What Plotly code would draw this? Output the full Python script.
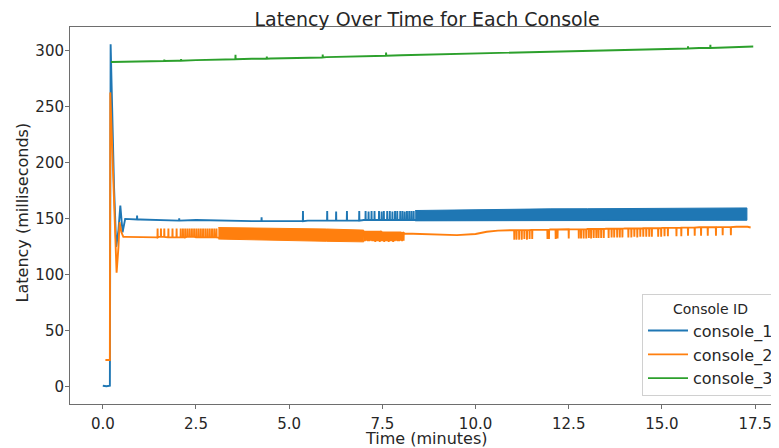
import plotly.graph_objects as go

# ---------------- data ----------------
# console_1 : start-up transient, slow baseline, isolated spikes, dense spike band
c1_start_t = [0.0, 0.1, 0.19, 0.21, 0.25, 0.3, 0.36, 0.42, 0.47, 0.53]
c1_start_v = [1, 0.5, 1, 306, 250, 180, 125, 140, 162, 138]
c1_base_t = [0.6, 0.75, 1.0, 1.5, 2.0, 2.5, 3.0, 3.5, 4.0, 4.5, 5.0, 5.5, 6.0, 6.5,
             7.0, 7.5, 8.0, 8.5, 9.0, 9.5, 10.0, 10.5, 11.0, 11.5, 12.0, 12.5, 13.0,
             13.5, 14.0, 14.5, 15.0, 15.5, 16.0, 16.5, 17.0, 17.28]
c1_base_v = [150, 149.5, 149.5, 149, 148.5, 149, 148.5, 148.5, 148, 148, 148, 148.5,
             148.5, 148.5, 149, 149, 149, 149, 149, 149.5, 149.5, 149.5, 149.5, 149.5,
             150, 150, 150, 150, 150, 150, 150.5, 150.5, 150.5, 150.5, 150.5, 150.5]
c1_spike_t = [0.92, 2.05, 4.26, 5.37, 6.02, 6.26, 6.55, 6.88, 7.05, 7.13, 7.21, 7.29,
              7.41, 7.48, 7.54, 7.63, 7.70, 7.77, 7.84, 7.90, 7.98, 8.04, 8.10, 8.16,
              8.22, 8.28, 8.34]
c1_spike_v = [153, 150.5, 151.5, 157, 157, 156.5, 157, 157, 157, 156.5, 157, 157,
              157, 156.5, 157, 157, 157, 156.5, 157, 157, 157, 157, 156.5, 157,
              157, 157, 157]
c1_band_t = [8.38, 9.0, 9.45, 10.0, 11.0, 12.0, 13.0, 14.0, 15.0, 16.0, 17.0, 17.28]
c1_band_hi = [157.5, 157.8, 158.3, 158.6, 158.8, 159.0, 159.1, 159.3, 159.5, 159.6, 159.8, 159.8]
c1_band_lo = [148.3, 148.3, 148.4, 148.4, 148.5, 148.5, 148.6, 148.6, 148.7, 148.7, 148.8, 148.8]

# console_2
c2_start_t = [0.07, 0.19, 0.2, 0.27, 0.33, 0.37, 0.42, 0.45, 0.5, 0.55]
c2_start_v = [24, 24, 263, 200, 130, 102, 125, 147, 138, 134]
c2_base_t = [0.6, 0.75, 1.0, 1.25, 1.5, 1.75, 2.0, 2.25, 2.5, 2.75, 3.0, 3.25, 3.5,
             4.0, 4.5, 5.0, 5.5, 6.0, 6.5, 6.95, 7.0, 7.5, 8.0, 8.1, 8.5, 9.0, 9.5,
             10.0, 10.3, 10.6, 11.0, 11.5, 12.0, 12.5, 13.0, 13.5, 14.0, 14.5, 15.0,
             15.5, 16.0, 16.5, 17.0, 17.3, 17.38]
c2_base_v = [134, 134, 134, 133.5, 134, 133.5, 133.5, 134, 133.5, 133.5, 133.5, 133,
             133, 133, 132.5, 132, 132, 131.5, 131.5, 131, 138.5, 138, 137.5, 137,
             136.5, 136, 135.5, 136.5, 138.5, 139.5, 140, 140.2, 140.5, 140.7, 141,
             141.2, 141.5, 141.7, 142, 142.2, 142.5, 142.7, 143, 143, 142.3]
c2_spike_t = [1.47, 1.56, 1.65, 1.76, 1.87, 1.98, 2.09, 2.15, 2.21, 2.27, 2.33, 2.39,
              2.45, 2.51, 2.57, 2.63, 2.69, 2.75, 2.81, 2.87, 2.93, 2.99, 3.05,
              7.03, 7.07, 7.11, 7.15, 7.19, 7.23, 7.27, 7.31, 7.35, 7.39, 7.43, 7.47,
              7.51, 7.55, 7.59, 7.63, 7.67, 7.71, 7.75, 7.79, 7.83, 7.87, 7.91, 7.95,
              7.99, 8.03, 8.07,
              11.04, 11.10, 11.17, 11.24, 11.31, 11.38, 11.45, 11.52, 11.93, 11.97,
              12.15, 12.20, 12.50, 12.77, 12.83, 12.90, 12.97, 13.04, 13.10, 13.17,
              13.24, 13.30, 13.37, 13.44, 13.57, 13.65, 13.72, 13.80, 13.87, 13.94,
              14.10, 14.18, 14.26, 14.34, 14.42, 14.50, 14.58, 14.66, 14.73, 14.90,
              14.98, 15.07, 15.16, 15.39, 15.52, 15.70, 15.88, 16.05, 16.23, 16.45,
              16.63, 16.85]
c2_spike_v = [141.5, 141.5, 141.5, 141.5, 141.5, 141.5, 141.5, 141.5, 141.5, 141.5,
              141.5, 141.5, 141.5, 141.5, 141.5, 141.5, 141.5, 141.5, 141.5, 141.5,
              141.5, 141.5, 141.5,
              130, 130.5, 130, 130, 130.5, 130, 130, 129.5, 130, 130, 129.5, 130,
              130, 129.5, 130, 130, 129.5, 130, 130, 129.5, 130, 130.5, 130, 130,
              130.5, 130, 130.5,
              131.5, 131.5, 131.5, 131.5, 132, 131.5, 132, 132, 132, 132,
              132, 132.5, 132.5, 132.5, 132.5, 132.5, 132.5, 133, 132.5, 133,
              133, 133, 133, 133, 133, 133.5, 133.5, 133.5, 133.5, 133.5,
              133.5, 133.5, 134, 133.5, 134, 134, 134, 134, 134, 134,
              134, 134.5, 134.5, 134.5, 134.5, 135, 135, 135, 135, 135,
              135.5, 135.5]
c2_band_t = [3.1, 4.0, 5.0, 6.0, 7.0]
c2_band_hi = [142.3, 142.0, 141.5, 141.0, 140.0]
c2_band_lo = [132.0, 131.3, 130.5, 130.0, 129.5]

# console_3
c3_base_t = [0.22, 0.5, 1.0, 1.5, 2.0, 2.5, 3.0, 3.5, 4.0, 4.5, 5.0, 5.5, 6.0, 6.5,
             7.0, 7.5, 8.0, 8.5, 9.0, 9.5, 10.0, 10.5, 11.0, 11.5, 12.0, 12.5, 13.0,
             13.5, 14.0, 14.5, 15.0, 15.5, 16.0, 16.5, 17.0, 17.45]
c3_base_v = [290.2, 290.3, 290.7, 291.0, 291.3, 291.8, 292.1, 292.6, 293.0, 293.3,
             293.8, 294.2, 294.5, 295.0, 295.4, 295.7, 296.2, 296.6, 296.9, 297.4,
             297.8, 298.1, 298.6, 299.0, 299.3, 299.8, 300.2, 300.5, 301.0, 301.4,
             301.7, 302.2, 302.6, 302.9, 303.4, 304.0]
c3_spike_t = [1.65, 2.10, 3.56, 4.40, 5.90, 7.60, 15.70, 16.30]
c3_spike_v = [292.3, 292.8, 296.5, 295.0, 296.8, 298.5, 304.2, 305.5]

series_names = ["console_1", "console_2", "console_3"]
series_colors = ["#1f77b4", "#ff7f0e", "#2ca02c"]

x_ticks = [0, 2.5, 5, 7.5, 10, 12.5, 15, 17.5]
x_tick_labels = ["0.0", "2.5", "5.0", "7.5", "10.0", "12.5", "15.0", "17.5"]
y_ticks = [0, 50, 100, 150, 200, 250, 300]
y_tick_labels = ["0", "50", "100", "150", "200", "250", "300"]


def merge_series(start_t, start_v, base_t, base_v, spike_t, spike_v, half=0.004):
    """Samples in time order; each spike rises from the last baseline sample before it."""
    pts = list(zip(start_t, start_v)) + list(zip(base_t, base_v))
    for st, sv in zip(spike_t, spike_v):
        b = [v for t, v in zip(base_t, base_v) if t <= st][-1]
        pts += [(st - half, b), (st, sv), (st + half, b)]
    pts.sort(key=lambda p: p[0])
    return [p[0] for p in pts], [p[1] for p in pts]


FONT = "DejaVu Sans"
TXT = "#262626"
AX = "#6e6e6e"

lines = [
    merge_series(c1_start_t, c1_start_v, c1_base_t, c1_base_v, c1_spike_t, c1_spike_v),
    merge_series(c2_start_t, c2_start_v, c2_base_t, c2_base_v, c2_spike_t, c2_spike_v),
    merge_series([], [], c3_base_t, c3_base_v, c3_spike_t, c3_spike_v),
]
bands = [(c1_band_t, c1_band_hi, c1_band_lo), (c2_band_t, c2_band_hi, c2_band_lo), None]

fig = go.Figure()
for name, color, (x, y), band in zip(series_names, series_colors, lines, bands):
    fig.add_trace(go.Scatter(x=x, y=y, mode="lines", name=name,
                             line=dict(color=color, width=1.9)))
    if band is not None:
        bt, bhi, blo = band
        fig.add_trace(go.Scatter(x=list(bt) + list(bt)[::-1], y=list(bhi) + list(blo)[::-1],
                                 mode="lines", fill="toself", fillcolor=color,
                                 line=dict(color=color, width=1),
                                 showlegend=False, hoverinfo="skip"))

# the browser page adds an 8 px body margin, so the figure is 8 px smaller
fig.update_layout(
    width=771, height=440,
    margin=dict(l=62, r=0, t=19, b=44),
    paper_bgcolor="white", plot_bgcolor="white",
    font=dict(family=FONT, color=TXT, size=15),
    showlegend=True,
    title=dict(text="Latency Over Time for Each Console",
               font=dict(family=FONT, size=19, color=TXT),
               x=0.508, xref="paper", xanchor="center",
               y=1 - 11 / 440, yref="container", yanchor="middle"),
    legend=dict(
        title=dict(text="Console ID", font=dict(size=14, color=TXT), side="top center"),
        font=dict(size=16, color=TXT),
        x=0.814, xanchor="left", y=0.02, yanchor="bottom",
        bgcolor="rgba(255,255,255,0.85)", bordercolor="#d0d0d0", borderwidth=1,
        itemwidth=40, tracegroupgap=0,
    ),
    xaxis=dict(
        range=[-0.88, 17.98], tickvals=x_ticks, ticktext=x_tick_labels,
        showgrid=False, zeroline=False, showline=True, linecolor=AX, linewidth=1,
        mirror=True, ticks="outside", ticklen=4, tickcolor=AX,
        tickfont=dict(size=15, color=TXT), ticklabelstandoff=2,
    ),
    yaxis=dict(
        range=[-15.3, 321.4], tickvals=y_ticks, ticktext=y_tick_labels,
        showgrid=False, zeroline=False, showline=True, linecolor=AX, linewidth=1,
        ticks="outside", ticklen=4, tickcolor=AX,
        tickfont=dict(size=15, color=TXT), ticklabelstandoff=-2,
    ),
    annotations=[
        dict(text="Time (minutes)", xref="paper", yref="paper",
             x=(430 - 70) / 709, y=-(438 - 404) / 377, xanchor="center", yanchor="middle",
             showarrow=False, font=dict(size=16, color=TXT, family=FONT)),
        dict(text="Latency (milliseconds)", xref="paper", yref="paper",
             x=-(70 - 22) / 709, y=(404 - 212) / 377, xanchor="center", yanchor="middle",
             textangle=-90, showarrow=False, font=dict(size=16, color=TXT, family=FONT)),
    ],
)

fig.write_html("out.html")
